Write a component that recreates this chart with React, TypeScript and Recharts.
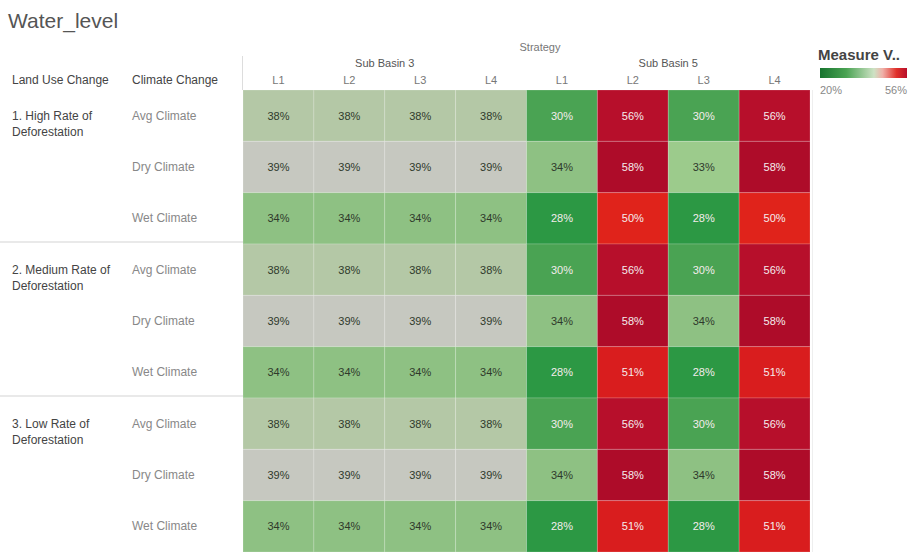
import React from "react";
import { ScatterChart, Scatter, XAxis, YAxis, ReferenceLine } from "recharts";

const landUse = [
  ["1. High Rate of", "Deforestation"],
  ["2. Medium Rate of", "Deforestation"],
  ["3. Low Rate of", "Deforestation"],
];
const climates = ["Avg Climate", "Dry Climate", "Wet Climate"];
const strategies = ["L1", "L2", "L3", "L4"];
const basins = ["Sub Basin 3", "Sub Basin 5"];

// rows: land use x climate, cols: Sub Basin 3 L1-L4, Sub Basin 5 L1-L4
const values = [
  [38, 38, 38, 38, 30, 56, 30, 56],
  [39, 39, 39, 39, 34, 58, 33, 58],
  [34, 34, 34, 34, 28, 50, 28, 50],
  [38, 38, 38, 38, 30, 56, 30, 56],
  [39, 39, 39, 39, 34, 58, 34, 58],
  [34, 34, 34, 34, 28, 51, 28, 51],
  [38, 38, 38, 38, 30, 56, 30, 56],
  [39, 39, 39, 39, 34, 58, 34, 58],
  [34, 34, 34, 34, 28, 51, 28, 51],
];
const legendRange = [20, 56];

const W = 915;
const H = 552;
const LEFT = 243;
const RIGHT = 810;
const TOP = 90;
const COLS = 8;
const ROWS = 9;
const CW = (RIGHT - LEFT) / COLS;
const RH = (H - TOP) / ROWS;

const FONT = "'Liberation Sans', Arial, sans-serif";

const stops: [number, string][] = [
  [20, "#17742f"],
  [28, "#2c9844"],
  [30, "#4aa353"],
  [33, "#9ccb8c"],
  [34, "#8ec183"],
  [38, "#b4c8a6"],
  [39, "#c6c8c0"],
  [45, "#e6a9a0"],
  [50, "#e0231b"],
  [51, "#d91d1e"],
  [56, "#b70f2b"],
  [58, "#ae0c29"],
];

function hex(c: string) {
  return [1, 3, 5].map((i) => parseInt(c.slice(i, i + 2), 16));
}

function colorFor(v: number) {
  if (v <= stops[0][0]) return stops[0][1];
  for (let i = 1; i < stops.length; i++) {
    if (v <= stops[i][0]) {
      const [a, ca] = stops[i - 1];
      const [b, cb] = stops[i];
      const t = (v - a) / (b - a);
      const x = hex(ca);
      const y = hex(cb);
      const m = x.map((k, j) => Math.round(k + (y[j] - k) * t));
      return `rgb(${m.join(",")})`;
    }
  }
  return stops[stops.length - 1][1];
}

const data = values.flatMap((row, r) =>
  row.map((v, c) => ({ x: c + 0.5, y: r + 0.5, v }))
);

const Cell = (props: any) => {
  const { cx, cy, payload } = props;
  const v = payload.v;
  const dark = v <= 30 || v >= 45;
  return (
    <g>
      <rect
        x={cx - CW / 2}
        y={cy - RH / 2}
        width={CW}
        height={RH}
        fill={colorFor(v)}
        stroke="rgba(255,255,255,0.18)"
        strokeWidth={1}
      />
      <text
        x={cx}
        y={cy + 4}
        textAnchor="middle"
        fontSize={11}
        fontFamily={FONT}
        fill={dark ? "#f4ecec" : "#2f3a2c"}
      >
        {v}%
      </text>
    </g>
  );
};

const ColTick = (props: any) => {
  const { x, payload } = props;
  const c = Math.floor(payload.value);
  return (
    <g>
      <text x={x} y={84} textAnchor="middle" fontSize={11} fontFamily={FONT} fill="#777">
        {strategies[c % strategies.length]}
      </text>
      {c % 4 === 1 && (
        <text x={x + CW / 2} y={67} textAnchor="middle" fontSize={11} fontFamily={FONT} fill="#555">
          {basins[Math.floor(c / 4)]}
        </text>
      )}
    </g>
  );
};

const RowTick = (props: any) => {
  const { y, payload } = props;
  const r = Math.floor(payload.value);
  const g = Math.floor(r / 3);
  return (
    <g>
      {r % 3 === 0 && (
        <text x={12} y={y + 4} fontSize={12} fontFamily={FONT} fill="#444">
          <tspan x={12}>{landUse[g][0]}</tspan>
          <tspan x={12} dy={16}>{landUse[g][1]}</tspan>
        </text>
      )}
      {r % 3 === 0 && g > 0 && (
        <line x1={0} x2={LEFT} y1={y - RH / 2 - 2} y2={y - RH / 2 - 2} stroke="#e2e2e2" strokeWidth={1.5} />
      )}
      <text x={132} y={y + 4} fontSize={12} fontFamily={FONT} fill="#888">
        {climates[r % 3]}
      </text>
    </g>
  );
};

export default function App() {
  return (
    <div style={{ position: "absolute", left: 0, top: 0, width: W, height: H, background: "#fff", fontFamily: FONT }}>
      <div style={{ position: "absolute", left: 8, top: 9, fontSize: 21, color: "#555" }}>Water_level</div>
      <div style={{ position: "absolute", left: 12, top: 73, fontSize: 12, color: "#444" }}>Land Use Change</div>
      <div style={{ position: "absolute", left: 132, top: 73, fontSize: 12, color: "#444" }}>Climate Change</div>
      <div style={{ position: "absolute", left: 500, top: 41, width: 80, textAlign: "center", fontSize: 11, color: "#777" }}>
        Strategy
      </div>
      <div style={{ position: "absolute", left: 242, top: 56, width: 1, height: 34, background: "#ddd" }} />
      <div style={{ position: "absolute", left: 812, top: TOP, width: 1, height: H - TOP, background: "#eee" }} />
      <ScatterChart width={W} height={H} margin={{ top: 70, right: W - RIGHT, bottom: 0, left: 0 }}>
        <XAxis
          xAxisId="col"
          type="number"
          dataKey="x"
          orientation="top"
          domain={[0, COLS]}
          ticks={data.slice(0, COLS).map((d) => d.x)}
          tick={<ColTick />}
          axisLine={false}
          tickLine={false}
          height={20}
        />
        <YAxis
          type="number"
          dataKey="y"
          domain={[0, ROWS]}
          reversed
          ticks={values.map((_, r) => r + 0.5)}
          tick={<RowTick />}
          axisLine={false}
          tickLine={false}
          width={LEFT}
        />
        <Scatter xAxisId="col" data={data} shape={<Cell />} isAnimationActive={false} />
        <ReferenceLine xAxisId="col" y={3} stroke="#ffffff" strokeWidth={2} />
        <ReferenceLine xAxisId="col" y={6} stroke="#ffffff" strokeWidth={2} />
      </ScatterChart>
      <div style={{ position: "absolute", left: 818, top: 46, fontSize: 15, fontWeight: 600, color: "#444" }}>Measure V..</div>
      <div
        style={{
          position: "absolute",
          left: 820,
          top: 68,
          width: 87,
          height: 10,
          background:
            "linear-gradient(to right, #17742f 0%, #4aa353 30%, #cde2c4 62%, #f0b0a8 72%, #e0302a 88%, #b70f2b 100%)",
        }}
      />
      <div style={{ position: "absolute", left: 820, top: 84, fontSize: 11, color: "#888" }}>{legendRange[0]}%</div>
      <div style={{ position: "absolute", left: 877, top: 84, width: 30, textAlign: "right", fontSize: 11, color: "#888" }}>
        {legendRange[1]}%
      </div>
    </div>
  );
}
